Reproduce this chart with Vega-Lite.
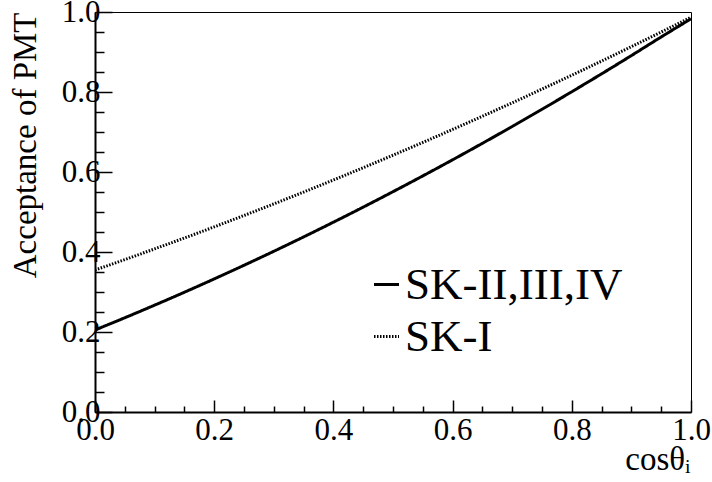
{
  "$schema": "https://vega.github.io/schema/vega-lite/v6.json",
  "autosize": {"type": "none"},
  "padding": {"left": 95, "top": 12, "right": 21, "bottom": 70},
  "width": 596,
  "height": 400,
  "background": "white",
  "config": {
    "view": {"stroke": "black", "strokeWidth": 1},
    "font": "Liberation Serif",
    "axis": {
      "domainColor": "black",
      "domainWidth": 2,
      "tickColor": "black",
      "tickWidth": 1.5,
      "grid": false,
      "labelColor": "black",
      "titleColor": "black",
      "labelFont": "Liberation Serif",
      "titleFont": "Liberation Serif",
      "labelFontSize": 31,
      "titleFontSize": 33,
      "titleFontWeight": "normal",
      "labelOverlap": false,
      "labelFlush": false
    }
  },
  "data": {
    "values": [
      {"x": 0.0, "y": 0.205, "series": "SK-II,III,IV"},
      {"x": 0.05, "y": 0.2356, "series": "SK-II,III,IV"},
      {"x": 0.1, "y": 0.2671, "series": "SK-II,III,IV"},
      {"x": 0.15, "y": 0.2994, "series": "SK-II,III,IV"},
      {"x": 0.2, "y": 0.3327, "series": "SK-II,III,IV"},
      {"x": 0.25, "y": 0.3668, "series": "SK-II,III,IV"},
      {"x": 0.3, "y": 0.4018, "series": "SK-II,III,IV"},
      {"x": 0.35, "y": 0.4377, "series": "SK-II,III,IV"},
      {"x": 0.4, "y": 0.4745, "series": "SK-II,III,IV"},
      {"x": 0.45, "y": 0.5122, "series": "SK-II,III,IV"},
      {"x": 0.5, "y": 0.5508, "series": "SK-II,III,IV"},
      {"x": 0.55, "y": 0.5902, "series": "SK-II,III,IV"},
      {"x": 0.6, "y": 0.6305, "series": "SK-II,III,IV"},
      {"x": 0.65, "y": 0.6717, "series": "SK-II,III,IV"},
      {"x": 0.7, "y": 0.7138, "series": "SK-II,III,IV"},
      {"x": 0.75, "y": 0.7568, "series": "SK-II,III,IV"},
      {"x": 0.8, "y": 0.8007, "series": "SK-II,III,IV"},
      {"x": 0.85, "y": 0.8454, "series": "SK-II,III,IV"},
      {"x": 0.9, "y": 0.8911, "series": "SK-II,III,IV"},
      {"x": 0.95, "y": 0.9376, "series": "SK-II,III,IV"},
      {"x": 1.0, "y": 0.983, "series": "SK-II,III,IV"},
      {"x": 0.0, "y": 0.355, "series": "SK-I"},
      {"x": 0.05, "y": 0.3811, "series": "SK-I"},
      {"x": 0.1, "y": 0.4078, "series": "SK-I"},
      {"x": 0.15, "y": 0.435, "series": "SK-I"},
      {"x": 0.2, "y": 0.4628, "series": "SK-I"},
      {"x": 0.25, "y": 0.4913, "series": "SK-I"},
      {"x": 0.3, "y": 0.5202, "series": "SK-I"},
      {"x": 0.35, "y": 0.5498, "series": "SK-I"},
      {"x": 0.4, "y": 0.58, "series": "SK-I"},
      {"x": 0.45, "y": 0.6107, "series": "SK-I"},
      {"x": 0.5, "y": 0.642, "series": "SK-I"},
      {"x": 0.55, "y": 0.6739, "series": "SK-I"},
      {"x": 0.6, "y": 0.7064, "series": "SK-I"},
      {"x": 0.65, "y": 0.7394, "series": "SK-I"},
      {"x": 0.7, "y": 0.773, "series": "SK-I"},
      {"x": 0.75, "y": 0.8073, "series": "SK-I"},
      {"x": 0.8, "y": 0.842, "series": "SK-I"},
      {"x": 0.85, "y": 0.8774, "series": "SK-I"},
      {"x": 0.9, "y": 0.9134, "series": "SK-I"},
      {"x": 0.95, "y": 0.9499, "series": "SK-I"},
      {"x": 1.0, "y": 0.987, "series": "SK-I"}
    ]
  },
  "mark": {"type": "line", "color": "black", "strokeWidth": 3, "interpolate": "monotone", "clip": true},
  "encoding": {
    "x": {
      "field": "x",
      "type": "quantitative",
      "scale": {"domain": [0, 1], "nice": false, "zero": false},
      "axis": {
        "title": "cosθᵢ",
        "values": [0, 0.05, 0.1, 0.15, 0.2, 0.25, 0.3, 0.35, 0.4, 0.45, 0.5, 0.55, 0.6, 0.65, 0.7, 0.75, 0.8, 0.85, 0.9, 0.95, 1.0],
        "labelExpr": "abs(datum.value*5 - round(datum.value*5)) < 0.001 ? format(datum.value, '.1f') : ''",
        "tickSize": {"condition": {"test": "abs(datum.value*5 - round(datum.value*5)) < 0.001", "value": -12}, "value": -6},
        "labelPadding": 15,
        "titleX": 595,
        "titleY": 57,
        "titleAlign": "right",
        "titleBaseline": "alphabetic",
        "titleAnchor": "end"
      }
    },
    "y": {
      "field": "y",
      "type": "quantitative",
      "scale": {"domain": [0, 1], "nice": false, "zero": false},
      "axis": {
        "title": "Acceptance of PMT",
        "values": [0, 0.05, 0.1, 0.15, 0.2, 0.25, 0.3, 0.35, 0.4, 0.45, 0.5, 0.55, 0.6, 0.65, 0.7, 0.75, 0.8, 0.85, 0.9, 0.95, 1.0],
        "labelExpr": "abs(datum.value*5 - round(datum.value*5)) < 0.001 ? format(datum.value, '.1f') : ''",
        "tickSize": {"condition": {"test": "abs(datum.value*5 - round(datum.value*5)) < 0.001", "value": -17}, "value": -9},
        "labelPadding": 12,
        "titleX": -60,
        "titleY": 0,
        "titleAngle": 270,
        "titleAlign": "right",
        "titleBaseline": "alphabetic",
        "titleAnchor": "end"
      }
    },
    "strokeDash": {
      "field": "series",
      "type": "nominal",
      "scale": {"domain": ["SK-II,III,IV", "SK-I"], "range": [[1, 0], [1.5, 1.5]]},
      "legend": {
        "title": null,
        "orient": "none",
        "legendX": 269,
        "legendY": 250,
        "padding": 0,
        "symbolType": "stroke",
        "symbolSize": 625,
        "symbolStrokeWidth": 3,
        "symbolStrokeColor": "black",
        "labelFont": "Liberation Serif",
        "labelFontSize": 45,
        "labelColor": "black",
        "labelOffset": -4,
        "rowPadding": 6,
        "labelLimit": 400
      }
    }
  }
}
